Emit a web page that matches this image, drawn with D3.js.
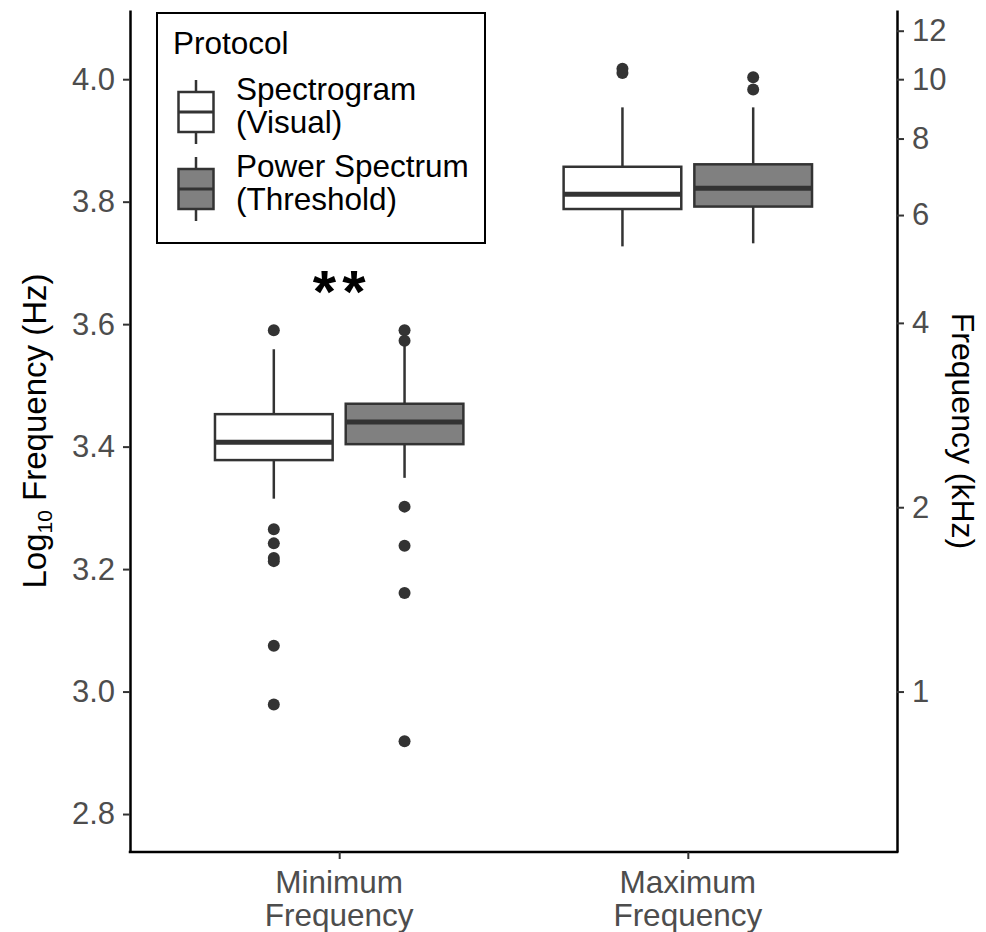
<!DOCTYPE html>
<html>
<head>
<meta charset="utf-8">
<script src="https://cdn.jsdelivr.net/npm/d3@7"></script>
<style>
  body { margin: 0; background: #fff; }
  text { font-family: "Liberation Sans", Arial, Helvetica, sans-serif; }
</style>
</head>
<body>
<div id="canvas"></div>
<script>
"use strict";

/* === Data (log10 Hz) === */
let categories = ["Minimum Frequency", "Maximum Frequency"];
let categoryLines = [["Minimum", "Frequency"], ["Maximum", "Frequency"]];
let protocols = ["Spectrogram (Visual)", "Power Spectrum (Threshold)"];
let protocolLines = [["Spectrogram", "(Visual)"], ["Power Spectrum", "(Threshold)"]];
let protocolFill = ["#ffffff", "#808080"];

// one row per category, one value per protocol
let whiskerLow  = [[3.315, 3.349], [3.727, 3.732]];
let q1          = [[3.378, 3.404], [3.788, 3.792]];
let medians     = [[3.407, 3.440], [3.812, 3.822]];
let q3          = [[3.453, 3.470], [3.857, 3.861]];
let whiskerHigh = [[3.559, 3.566], [3.954, 3.954]];
let outliers = [
  [[3.590, 3.265, 3.242, 3.218, 3.213, 3.075, 2.979], [3.590, 3.573, 3.302, 3.238, 3.161, 2.919]],
  [[4.017, 4.010], [4.003, 3.983]]
];

let leftTicks = [2.8, 3.0, 3.2, 3.4, 3.6, 3.8, 4.0];
let rightTicks = [1, 2, 4, 6, 8, 10, 12]; // kHz
let yDomain = [2.738, 4.113];
let signifLabel = "**";

/* === Layout === */
let svgWidth = 986;
let svgHeight = 932;
let plot = { left: 130, right: 897, top: 10, bottom: 852 };
let lineCol = "#333333";

/* === Scales === */
let xScale = d3.scalePoint()
  .domain(categories)
  .range([plot.left, plot.right])
  .padding(0.6);

let step = xScale.step();
let dodge = d3.scaleBand()
  .domain(protocols)
  .range([-0.375 * step, 0.375 * step])
  .paddingInner(0);
let boxWidth = dodge.bandwidth() * 0.9;

let yScale = d3.scaleLinear()
  .domain(yDomain)
  .range([plot.bottom, plot.top]);

let kHzScale = d3.scaleLog()
  .domain(yDomain.map(v => Math.pow(10, v) / 1000))
  .range([plot.bottom, plot.top]);

/* === SVG === */
let svg = d3.select("#canvas")
  .append("svg")
  .attr("width", svgWidth)
  .attr("height", svgHeight);

/* === Boxes === */
let boxes = [];
categories.forEach((c, i) => {
  protocols.forEach((p, j) => {
    boxes.push({
      cat: c, prot: p, fill: protocolFill[j],
      lo: whiskerLow[i][j], q1: q1[i][j], med: medians[i][j],
      q3: q3[i][j], hi: whiskerHigh[i][j], out: outliers[i][j]
    });
  });
});

let cx = d => xScale(d.cat) + dodge(d.prot) + dodge.bandwidth() / 2;

let g = svg.append("g");

g.selectAll("line.whisker-hi")
  .data(boxes).enter().append("line")
  .attr("x1", cx).attr("x2", cx)
  .attr("y1", d => yScale(d.q3)).attr("y2", d => yScale(d.hi))
  .attr("stroke", lineCol).attr("stroke-width", 2.5);

g.selectAll("line.whisker-lo")
  .data(boxes).enter().append("line")
  .attr("x1", cx).attr("x2", cx)
  .attr("y1", d => yScale(d.q1)).attr("y2", d => yScale(d.lo))
  .attr("stroke", lineCol).attr("stroke-width", 2.5);

g.selectAll("rect.box")
  .data(boxes).enter().append("rect")
  .attr("x", d => cx(d) - boxWidth / 2)
  .attr("width", boxWidth)
  .attr("y", d => yScale(d.q3))
  .attr("height", d => yScale(d.q1) - yScale(d.q3))
  .attr("fill", d => d.fill)
  .attr("stroke", lineCol).attr("stroke-width", 2.5);

g.selectAll("line.median")
  .data(boxes).enter().append("line")
  .attr("x1", d => cx(d) - boxWidth / 2).attr("x2", d => cx(d) + boxWidth / 2)
  .attr("y1", d => yScale(d.med)).attr("y2", d => yScale(d.med))
  .attr("stroke", lineCol).attr("stroke-width", 5);

boxes.forEach(b => {
  g.selectAll(null)
    .data(b.out).enter().append("circle")
    .attr("cx", cx(b))
    .attr("cy", v => yScale(v))
    .attr("r", 6)
    .attr("fill", lineCol);
});

/* === Significance stars === */
svg.append("text")
  .attr("x", xScale(categories[0]) + 3)
  .attr("y", 312)
  .attr("text-anchor", "middle")
  .attr("font-size", "60px")
  .attr("font-weight", "bold")
  .attr("letter-spacing", "6px")
  .attr("fill", "#000")
  .text(signifLabel);

/* === Axes === */
function styleAxis(sel) {
  sel.select(".domain").attr("stroke", "#000").attr("stroke-width", 2.5);
  sel.selectAll(".tick line").attr("stroke", lineCol).attr("stroke-width", 2);
  sel.selectAll(".tick text")
    .attr("fill", "#4d4d4d")
    .attr("font-size", "31px")
    .attr("font-family", "'Liberation Sans', Arial, Helvetica, sans-serif");
}

svg.append("g")
  .attr("transform", `translate(${plot.left}, 0)`)
  .call(d3.axisLeft(yScale).tickValues(leftTicks).tickFormat(d3.format(".1f"))
    .tickSize(7).tickSizeOuter(0).tickPadding(8))
  .call(styleAxis);

svg.append("g")
  .attr("transform", `translate(${plot.right}, 0)`)
  .call(d3.axisRight(kHzScale).tickValues(rightTicks).tickFormat(d3.format("d"))
    .tickSize(7).tickSizeOuter(0).tickPadding(8))
  .call(styleAxis);

let xAxis = svg.append("g")
  .attr("transform", `translate(0, ${plot.bottom})`)
  .call(d3.axisBottom(xScale).tickSize(7).tickSizeOuter(0).tickFormat(""))
  .call(styleAxis);

xAxis.select(".domain").attr("d", `M${plot.left - 1.25},0H${plot.right + 1.25}`);

categories.forEach((c, i) => {
  let t = svg.append("text")
    .attr("x", xScale(c))
    .attr("text-anchor", "middle")
    .attr("font-size", "31.5px")
    .attr("fill", "#4d4d4d");
  categoryLines[i].forEach((line, k) => {
    t.append("tspan")
      .attr("x", xScale(c))
      .attr("y", 893 + k * 33)
      .text(line);
  });
});

/* === Axis titles === */
let yTitle = svg.append("text")
  .attr("transform", `translate(46, ${(plot.top + plot.bottom) / 2}) rotate(-90)`)
  .attr("text-anchor", "middle")
  .attr("font-size", "33px")
  .attr("fill", "#000");
yTitle.append("tspan").text("Log");
yTitle.append("tspan").attr("font-size", "21px").attr("dy", 6).text("10");
yTitle.append("tspan").attr("dy", -6).text(" Frequency (Hz)");

svg.append("text")
  .attr("transform", `translate(952, ${(plot.top + plot.bottom) / 2}) rotate(90)`)
  .attr("text-anchor", "middle")
  .attr("font-size", "32px")
  .attr("fill", "#000")
  .text("Frequency (kHz)");

/* === Legend === */
let legend = svg.append("g");

legend.append("rect")
  .attr("x", 157).attr("y", 13)
  .attr("width", 328).attr("height", 230)
  .attr("fill", "#fff")
  .attr("stroke", "#000").attr("stroke-width", 2);

legend.append("text")
  .attr("x", 173).attr("y", 54)
  .attr("font-size", "31.5px")
  .attr("fill", "#000")
  .text("Protocol");

protocols.forEach((p, j) => {
  let top = 80 + j * 77;
  let key = legend.append("g").attr("transform", `translate(196, ${top})`);
  key.append("line")
    .attr("x1", 0).attr("x2", 0).attr("y1", 0).attr("y2", 64)
    .attr("stroke", lineCol).attr("stroke-width", 2.5);
  key.append("rect")
    .attr("x", -17.5).attr("y", 12).attr("width", 35).attr("height", 40)
    .attr("fill", protocolFill[j])
    .attr("stroke", lineCol).attr("stroke-width", 2.5);
  key.append("line")
    .attr("x1", -17.5).attr("x2", 17.5).attr("y1", 32).attr("y2", 32)
    .attr("stroke", lineCol).attr("stroke-width", 3);

  let t = legend.append("text")
    .attr("font-size", "31.5px")
    .attr("fill", "#000");
  protocolLines[j].forEach((line, k) => {
    t.append("tspan")
      .attr("x", 236)
      .attr("y", top + 20 + k * 33)
      .text(line);
  });
});
</script>
</body>
</html>
